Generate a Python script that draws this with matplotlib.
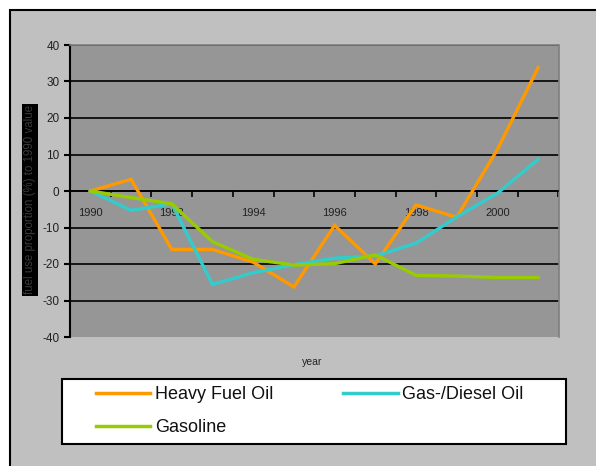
import matplotlib
matplotlib.use("Agg")
import matplotlib.pyplot as plt
from matplotlib.patches import Rectangle

plt.rcParams['font.family'] = ['Liberation Sans', 'DejaVu Sans']
plt.rcParams['axes.unicode_minus'] = False

# fuel use, % change relative to 1990
years = list(range(1990, 2002))
heavy_fuel = [0, 3.2, -16, -16, -19.5, -26.3, -9.4, -20, -3.8, -7.2, 11.4, 33.8]
gas_diesel = [0, -5.3, -3.5, -25.6, -22.4, -20.2, -18.4, -17.8, -14.3, -7.1, -0.6, 8.7]
gasoline = [0, -1.8, -3.5, -13.9, -18.7, -20.3, -19.9, -17.5, -23.1, -23.3, -23.7, -23.7]
labels = ['Heavy Fuel Oil', 'Gas-/Diesel Oil', 'Gasoline']
colors = ['#ff9900', '#33cccc', '#99cc00']

W, H = 596, 466
fig = plt.figure(figsize=(W / 100, H / 100), dpi=100, facecolor='white')
# grey chart area with black border (extends past right/bottom edge)
fig.patches.append(Rectangle((10 / W, -0.1), 1.2, 1 - 10 / H + 0.1,
                             transform=fig.transFigure, facecolor='#c0c0c0',
                             edgecolor='black', linewidth=1.5, zorder=-5))
# legend box
fig.patches.append(Rectangle((62 / W, 1 - 444 / H), (566 - 62) / W, (444 - 379) / H,
                             transform=fig.transFigure, facecolor='white',
                             edgecolor='black', linewidth=1.5, zorder=-4))

ax = fig.add_axes([70 / W, 1 - 337 / H, (558.5 - 70) / W, (337 - 45) / H])
ax.set_zorder(2)
ax.set_facecolor('#969696')

x = list(range(len(years)))
lines = []
for vals, col, lab in zip([heavy_fuel, gas_diesel, gasoline], colors, labels):
    ln, = ax.plot(x, vals, color=col, lw=2.4, label=lab, zorder=3,
                  solid_joinstyle='miter')
    lines.append(ln)

ax.set_xlim(-0.5, len(years) - 0.5)
ax.set_ylim(-40, 40)
ax.set_yticks(range(-40, 41, 10))
for yv in range(-30, 41, 10):
    ax.axhline(yv, color='black', lw=1.2, zorder=1)

ax.spines['bottom'].set_position(('data', 0))
ax.spines['bottom'].set_color('black')
ax.spines['bottom'].set_linewidth(1.2)
ax.spines['left'].set_color('black')
ax.spines['left'].set_linewidth(1.5)
for s in ['top', 'right']:
    ax.spines[s].set_color('#808080')
    ax.spines[s].set_linewidth(1.2)

ax.set_xticks([i - 0.5 for i in range(len(years) + 1)])
ax.set_xticklabels([])
ax.set_xticks(x[::2], minor=True)
ax.set_xticklabels([str(y) for y in years[::2]], minor=True)
ax.tick_params(axis='x', which='major', direction='out', length=4, width=1.2,
               color='black')
ax.tick_params(axis='x', which='minor', length=0, pad=12.5, labelsize=8,
               labelcolor='#222222')
ax.tick_params(axis='y', direction='out', length=4, width=1.5,
               labelsize=8.5, labelcolor='#222222')

fig.text(312 / W, 1 - 362 / H, 'year', ha='center', va='center',
         fontsize=7.5, color='#222222')
fig.text(30 / W, 1 - 200 / H, 'fuel use proportion (%) to 1990 value',
         rotation=90, ha='center', va='center', fontsize=8.3, color='#3a3a3a',
         bbox=dict(facecolor='black', edgecolor='none', pad=1.2))

# column-wise fill: Heavy Fuel Oil, Gasoline | Gas-/Diesel Oil
order = [0, 2, 1]
leg = fig.legend(handles=[lines[i] for i in order], loc='upper left', ncol=2,
                 bbox_to_anchor=(96 / W, 1 - 386 / H), fontsize=13,
                 frameon=False, borderpad=0, handlelength=3.0,
                 handletextpad=0.25, columnspacing=3.9,
                 labelspacing=0.9, borderaxespad=0)
for t in leg.get_texts():
    t.set_color('#111111')
for h in leg.legend_handles:
    h.set_linewidth(2.5)

fig.savefig('out.png', dpi=100, facecolor=fig.get_facecolor())
